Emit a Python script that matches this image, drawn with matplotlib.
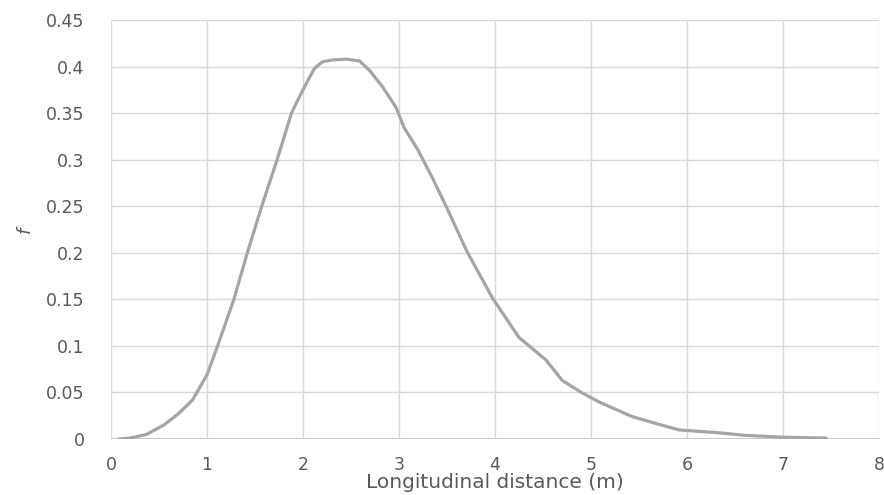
import numpy as np
import matplotlib.pyplot as plt

# values
dist = [0.08, 0.2, 0.37, 0.55, 0.7, 0.85, 1.0, 1.11, 1.28, 1.42, 1.57, 1.73,
        1.88, 1.96, 2.05, 2.12, 2.2, 2.3, 2.45, 2.59, 2.7, 2.83, 2.97, 3.05,
        3.2, 3.35, 3.5, 3.7, 3.97, 4.25, 4.53, 4.7, 4.9, 5.08, 5.43, 5.7,
        5.92, 6.3, 6.6, 6.99, 7.45]
freq = [0.0, 0.001, 0.005, 0.015, 0.027, 0.042, 0.069, 0.1, 0.15, 0.2, 0.25, 0.3,
        0.35, 0.367, 0.385, 0.398, 0.405, 0.407, 0.408, 0.406, 0.395, 0.378, 0.356, 0.335,
        0.31, 0.28, 0.248, 0.203, 0.152, 0.109, 0.085, 0.063, 0.05, 0.04, 0.024, 0.016,
        0.0097, 0.007, 0.004, 0.002, 0.001]

x_ticks = [0, 1, 2, 3, 4, 5, 6, 7, 8]
y_ticks = [0, 0.05, 0.1, 0.15, 0.2, 0.25, 0.3, 0.35, 0.4, 0.45]
y_labels = ['0', '0.05', '0.1', '0.15', '0.2', '0.25', '0.3', '0.35', '0.4', '0.45']

plt.rcParams['font.family'] = ['DejaVu Sans']

fig = plt.figure(figsize=(8.84, 4.95), dpi=100)
ax = fig.add_axes([0.1256, 0.1131, 0.8687, 0.8465])

ax.plot(dist, freq, color='#a5a5a5', lw=2.3, solid_capstyle='round',
        solid_joinstyle='round', zorder=3)

ax.set_xlim(0, 8)
ax.set_ylim(0, 0.45)
ax.set_xticks(x_ticks)
ax.set_yticks(y_ticks)
ax.set_yticklabels(y_labels)
ax.grid(True, color='#d9d9d9', lw=1)
for s in ax.spines.values():
    s.set_visible(False)
ax.axhline(0, color='#bfbfbf', lw=1.2, zorder=2)
ax.tick_params(length=0, labelsize=12.5, colors='#595959')
ax.tick_params(axis='y', pad=19)
ax.tick_params(axis='x', pad=12)

ax.set_xlabel('Longitudinal distance (m)', fontsize=14.5, color='#595959')
ax.xaxis.set_label_coords(0.5, -0.08)
ax.set_ylabel('f', fontsize=13, color='#595959', style='italic')
ax.yaxis.set_label_coords(-0.10, 0.5)

fig.savefig('out.png', dpi=100)
